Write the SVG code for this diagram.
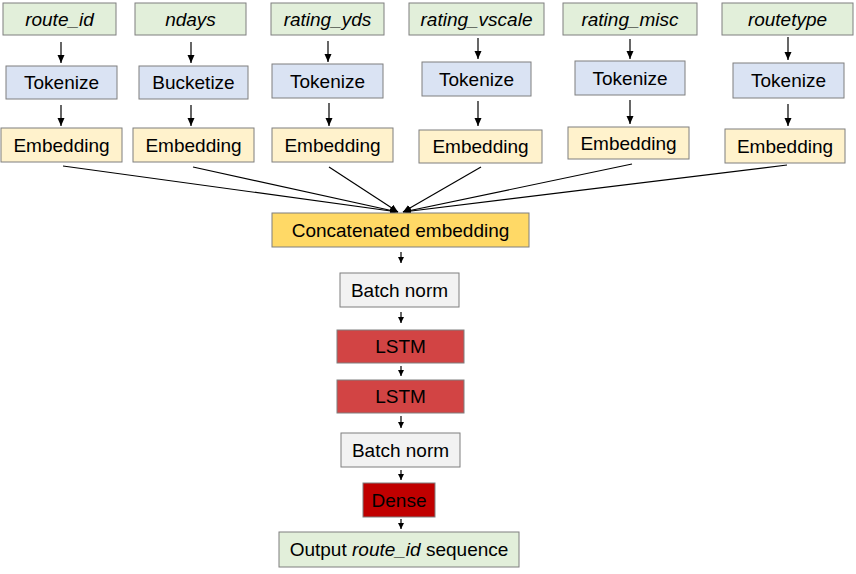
<svg xmlns="http://www.w3.org/2000/svg" width="856" height="574" viewBox="0 0 856 574">
<style>
text{font-family:"Liberation Sans",Arial,sans-serif;font-size:19px;fill:#000;text-anchor:middle}
.it{font-style:italic}
rect{stroke:#7f7f7f;stroke-width:1}
.in{fill:#e2efda}
.tk{fill:#dae3f3}
.em{fill:#fff2cc}
.cc{fill:#ffd966}
.bn{fill:#f2f2f2}
.ls{fill:#d24444}
.dn{fill:#c00000}
.out{fill:#e2efda}
.c line{stroke:#000;stroke-width:1.2}
.big{marker-end:url(#ah)}
.sm{marker-end:url(#as)}
</style>
<defs>
<marker id="ah" markerUnits="userSpaceOnUse" markerWidth="10" markerHeight="8" refX="8" refY="3.5" orient="auto"><path d="M0,0 L8,3.5 L0,7 z" fill="#000"/></marker>
<marker id="as" markerUnits="userSpaceOnUse" markerWidth="8" markerHeight="8" refX="6" refY="3" orient="auto"><path d="M0,0 L6,3 L0,6 z" fill="#000"/></marker>
</defs>
<g class="c" id="connectors">
<line class="big" x1="61" y1="42" x2="61" y2="63"/>
<line class="big" x1="191" y1="42" x2="191" y2="63"/>
<line class="big" x1="328" y1="41" x2="328" y2="62"/>
<line class="big" x1="478" y1="38" x2="478" y2="59"/>
<line class="big" x1="630" y1="39" x2="630" y2="59"/>
<line class="big" x1="788" y1="37" x2="788" y2="60"/>
<line class="big" x1="61" y1="105" x2="61" y2="126"/>
<line class="big" x1="191" y1="105" x2="191" y2="126"/>
<line class="big" x1="329" y1="103" x2="329" y2="126"/>
<line class="big" x1="478" y1="101" x2="478" y2="126"/>
<line class="big" x1="630" y1="100" x2="630" y2="124"/>
<line class="big" x1="788" y1="104" x2="788" y2="126"/>
<line class="big" x1="63" y1="166" x2="398" y2="212"/>
<line class="big" x1="193" y1="167" x2="398" y2="212"/>
<line class="big" x1="329" y1="167" x2="398" y2="212"/>
<line class="big" x1="481" y1="167" x2="403" y2="212"/>
<line class="big" x1="632" y1="164" x2="403" y2="212"/>
<line class="big" x1="787" y1="165" x2="403" y2="212"/>
<line class="sm" x1="401" y1="252" x2="401" y2="263"/>
<line class="sm" x1="401" y1="312" x2="401" y2="323"/>
<line class="sm" x1="401" y1="366" x2="401" y2="376"/>
<line class="sm" x1="401" y1="416" x2="401" y2="428"/>
<line class="sm" x1="401" y1="470" x2="401" y2="480"/>
<line class="sm" x1="401" y1="519" x2="401" y2="529"/>
</g>
<g id="in-route_id"><rect class="in" x="3" y="3" width="113" height="32"/><text class="it" x="59.5" y="25.5">route_id</text></g>
<g id="in-ndays"><rect class="in" x="135" y="3" width="111" height="32"/><text class="it" x="190.5" y="25.5">ndays</text></g>
<g id="in-rating_yds"><rect class="in" x="271" y="3" width="113" height="32"/><text class="it" x="327.5" y="25.5">rating_yds</text></g>
<g id="in-rating_vscale"><rect class="in" x="409" y="3" width="135" height="32"/><text class="it" x="476.5" y="25.5">rating_vscale</text></g>
<g id="in-rating_misc"><rect class="in" x="563" y="3" width="134" height="32"/><text class="it" x="630" y="25.5">rating_misc</text></g>
<g id="in-routetype"><rect class="in" x="722" y="3" width="131" height="32"/><text class="it" x="787.5" y="25.5">routetype</text></g>
<g id="tok1"><rect class="tk" x="6" y="66" width="111" height="33"/><text x="61.5" y="89">Tokenize</text></g>
<g id="buck2"><rect class="tk" x="139" y="66" width="109" height="33"/><text x="193.5" y="89">Bucketize</text></g>
<g id="tok3"><rect class="tk" x="272" y="64" width="111" height="34"/><text x="327.5" y="87.5">Tokenize</text></g>
<g id="tok4"><rect class="tk" x="422" y="62" width="109" height="34"/><text x="476.5" y="85.5">Tokenize</text></g>
<g id="tok5"><rect class="tk" x="575" y="61" width="110" height="34"/><text x="630" y="84.5">Tokenize</text></g>
<g id="tok6"><rect class="tk" x="733" y="63" width="111" height="35"/><text x="788.5" y="87">Tokenize</text></g>
<g id="emb1"><rect class="em" x="1" y="128" width="121" height="34"/><text x="61.5" y="151.5">Embedding</text></g>
<g id="emb2"><rect class="em" x="133" y="128" width="121" height="34"/><text x="193.5" y="151.5">Embedding</text></g>
<g id="emb3"><rect class="em" x="272" y="128" width="121" height="34"/><text x="332.5" y="151.5">Embedding</text></g>
<g id="emb4"><rect class="em" x="419" y="130" width="123" height="33"/><text x="480.5" y="153">Embedding</text></g>
<g id="emb5"><rect class="em" x="568" y="127" width="121" height="32"/><text x="628.5" y="149.5">Embedding</text></g>
<g id="emb6"><rect class="em" x="725" y="129" width="120" height="34"/><text x="785" y="152.5">Embedding</text></g>
<g id="concat"><rect class="cc" x="272" y="213" width="257" height="34"/><text x="400.5" y="236.5">Concatenated embedding</text></g>
<g id="bn1"><rect class="bn" x="340" y="273" width="119" height="34"/><text x="399.5" y="296.5">Batch norm</text></g>
<g id="lstm1"><rect class="ls" x="337" y="330" width="127" height="33"/><text x="400.5" y="353">LSTM</text></g>
<g id="lstm2"><rect class="ls" x="337" y="380" width="127" height="33"/><text x="400.5" y="403">LSTM</text></g>
<g id="bn2"><rect class="bn" x="341" y="433" width="119" height="34"/><text x="400.5" y="456.5">Batch norm</text></g>
<g id="dense"><rect class="dn" x="363" y="483" width="72" height="34"/><text x="399" y="506.5">Dense</text></g>
<g id="output"><rect class="out" x="279" y="532" width="240" height="35"/><text x="399" y="556">Output <tspan class="it">route_id</tspan> sequence</text></g>
</svg>
